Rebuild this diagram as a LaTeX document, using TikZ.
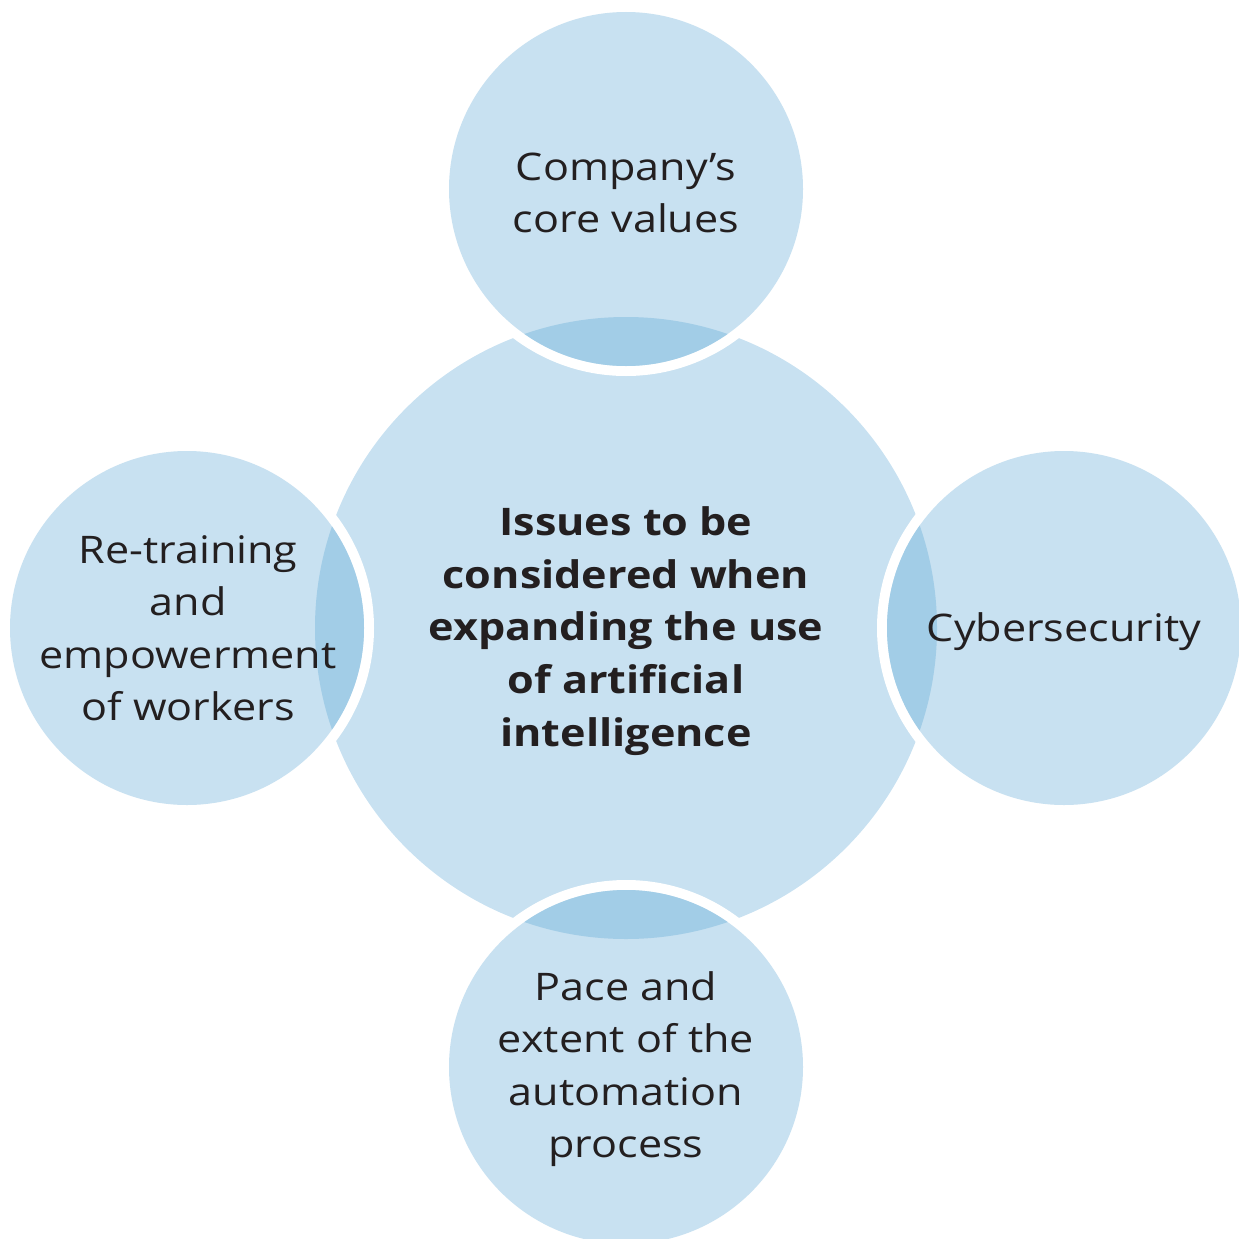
\documentclass[tikz,border=0pt]{standalone}
\usepackage{fontspec}
\setmainfont{Open Sans}[FakeStretch=1.135]
\definecolor{lightblue}{HTML}{C8E1F1}
\definecolor{darkblue}{HTML}{A2CDE7}
\definecolor{txt}{HTML}{231F20}
\begin{document}
\begin{tikzpicture}[x=1pt,y=-1pt,
  lbl/.style={text=txt, align=center, inner sep=0pt, font=\fontsize{38}{52.5}\selectfont},
  mainlbl/.style={lbl, font=\fontsize{38}{52.8}\selectfont\bfseries}]
\useasboundingbox (0,0) rectangle (1239,1239);
\coordinate (c) at (626,628);
\coordinate (t) at (626,189);
\coordinate (b) at (626,1067);
\coordinate (l) at (187,628);
\coordinate (r) at (1064,628);
\fill[lightblue] (c) circle[radius=311];
\foreach \p in {t,b,l,r}{
  \fill[white] (\p) circle[radius=187];
  \fill[lightblue] (\p) circle[radius=177];
  \begin{scope}
    \clip (\p) circle[radius=177];
    \fill[darkblue] (c) circle[radius=311];
  \end{scope}
}
\node[mainlbl] (cl) at (626,631) {Issues to be\\considered when\\expanding the use\\of artificial\\intelligence};
\node[lbl] (tl) at (626,193) {Company’s\\core values};
\node[lbl] (ll) at (188,628) {Re-training\\and\\empowerment\\of workers};
\node[lbl] (rl) at (1064,632) {Cybersecurity};
\node[lbl] (bl) at (626,1069) {Pace and\\extent of the\\automation\\process};
\end{tikzpicture}
\end{document}
